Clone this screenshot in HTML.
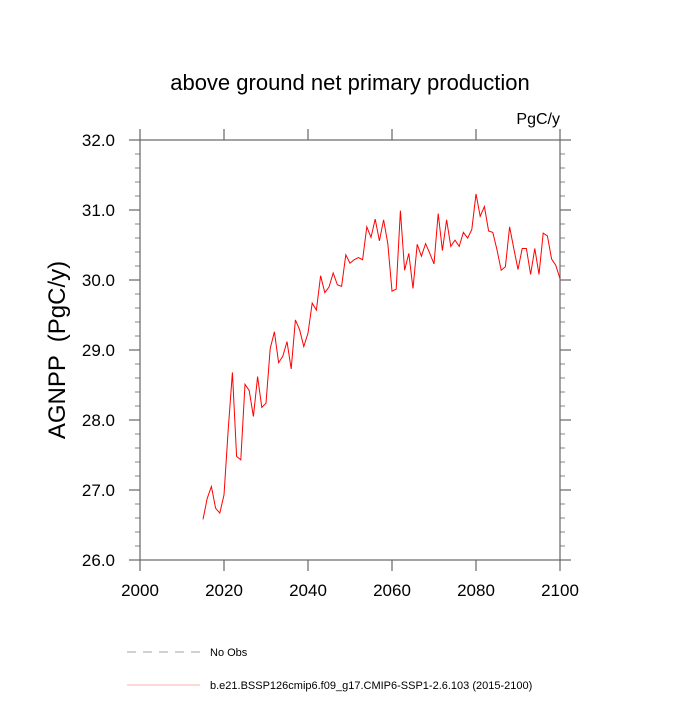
<!DOCTYPE html>
<html><head><meta charset="utf-8"><style>
body{margin:0;background:#fff;}
svg text{font-family:"Liberation Sans",sans-serif;}
</style></head><body>
<svg id="chart" width="700" height="700" xmlns="http://www.w3.org/2000/svg">
<text x="350" y="90" font-size="22" text-anchor="middle">above ground net primary production</text>
<text x="560" y="124" font-size="16" text-anchor="end">PgC/y</text>
<text x="0" y="0" font-size="24" text-anchor="middle" transform="translate(65,350) rotate(-90)" xml:space="preserve">AGNPP  (PgC/y)</text>
<g id="axes"></g>
<g id="series"></g>
<line x1="127" y1="652" x2="200" y2="652" stroke="#888" stroke-width="0.8" stroke-dasharray="9,7"/>
<text x="210" y="656" font-size="11">No Obs</text>
<line x1="127" y1="685" x2="200" y2="685" stroke="#f66" stroke-width="0.6"/>
<text x="210" y="689" font-size="11">b.e21.BSSP126cmip6.f09_g17.CMIP6-SSP1-2.6.103 (2015-2100)</text>
</svg>
<script>
const years=[];for(let y=2015;y<=2100;y++)years.push(y);
const agnpp=[26.58,26.88,27.05,26.74,26.67,26.93,27.86,28.68,27.48,27.43,28.51,28.42,28.05,28.62,28.18,28.24,29.02,29.26,28.82,28.91,29.12,28.73,29.43,29.29,29.05,29.24,29.67,29.57,30.06,29.82,29.90,30.10,29.93,29.91,30.36,30.24,30.29,30.32,30.29,30.76,30.61,30.87,30.56,30.86,30.52,29.84,29.87,30.99,30.14,30.38,29.88,30.51,30.34,30.52,30.38,30.23,30.95,30.42,30.86,30.48,30.57,30.48,30.68,30.60,30.72,31.23,30.91,31.05,30.70,30.68,30.43,30.14,30.19,30.76,30.45,30.15,30.45,30.45,30.08,30.45,30.08,30.67,30.63,30.30,30.21,30.02];
const xTicks=[2000,2020,2040,2060,2080,2100];
const yTicks=[26.0,27.0,28.0,29.0,30.0,31.0,32.0];
const L=140,R=560,T=140,B=560;
const X=v=>L+(v-2000)/100*(R-L);
const Y=v=>B-(v-26)/6*(B-T);
const NS="http://www.w3.org/2000/svg";
const ax=document.getElementById('axes');
const C='#666';
function mk(t,a,p){const e=document.createElementNS(NS,t);for(const k in a)e.setAttribute(k,a[k]);p.appendChild(e);return e;}
const fr=mk('rect',{x:L,y:T,width:R-L,height:B-T,fill:'none',stroke:C,'stroke-width':1.2},ax);


xTicks.forEach(v=>{
 mk('line',{x1:X(v),y1:B,x2:X(v),y2:B+11,stroke:C,'stroke-width':1.2},ax);
 mk('line',{x1:X(v),y1:T,x2:X(v),y2:T-11,stroke:C,'stroke-width':1.2},ax);});
for(let i=0;i<=30;i++){const v=26+i*0.2;const major=i%5===0;const len=major?11:5;
 mk('line',{x1:L,y1:Y(v),x2:L-len,y2:Y(v),stroke:C,'stroke-width':major?1.2:0.8},ax);
 mk('line',{x1:R,y1:Y(v),x2:R+len,y2:Y(v),stroke:C,'stroke-width':major?1.2:0.8},ax);}
xTicks.forEach(v=>{const t=mk('text',{x:X(v),y:B+36,'font-size':17,'text-anchor':'middle'},ax);t.textContent=v;
 
 });
yTicks.forEach(v=>{const t=mk('text',{x:L-25,y:Y(v)+6,'font-size':17,'text-anchor':'end'},ax);t.textContent=v.toFixed(1);
 
 });
const pl=mk('polyline',{points:years.map((y,i)=>X(y)+','+Y(agnpp[i])).join(' '),fill:'none',stroke:'red','stroke-width':1},document.getElementById('series'));


</script>
</body></html>
